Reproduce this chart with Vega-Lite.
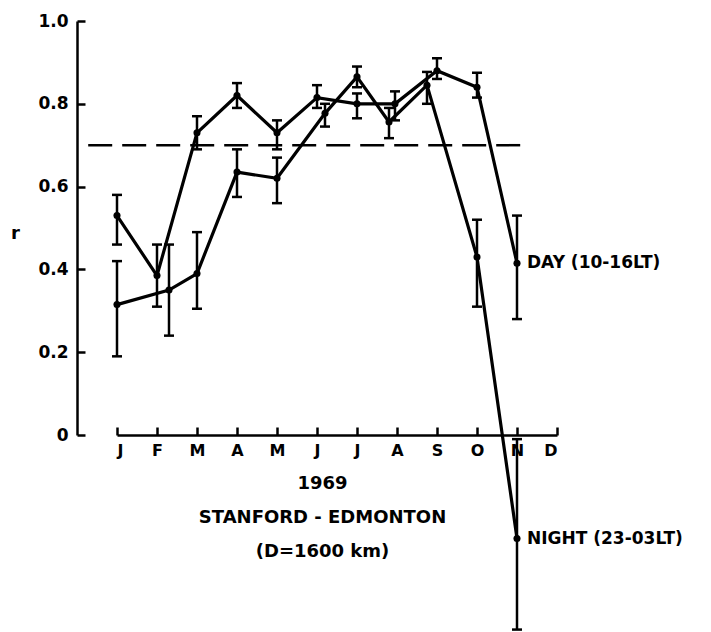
{
  "$schema": "https://vega.github.io/schema/vega-lite/v6.json",
  "width": 440,
  "height": 414,
  "autosize": {"type": "none"},
  "padding": {"left": 117, "top": 21, "right": 154, "bottom": 197},
  "background": "white",
  "config": {
    "view": {"stroke": null},
    "font": "DejaVu Sans",
    "axis": {
      "grid": false,
      "domainColor": "black",
      "domainWidth": 2.5,
      "tickColor": "black",
      "tickWidth": 2.5,
      "labelColor": "black",
      "titleColor": "black",
      "labelFont": "DejaVu Sans",
      "titleFont": "DejaVu Sans",
      "labelFontWeight": "bold",
      "titleFontWeight": "bold"
    }
  },
  "datasets": {
    "pts": [
      {"series": "DAY (10-16LT)", "m": 0, "r": 0.53, "lo": 0.46, "hi": 0.58},
      {"series": "DAY (10-16LT)", "m": 1, "r": 0.385, "lo": 0.31, "hi": 0.46},
      {"series": "DAY (10-16LT)", "m": 2, "r": 0.73, "lo": 0.69, "hi": 0.77},
      {"series": "DAY (10-16LT)", "m": 3, "r": 0.82, "lo": 0.79, "hi": 0.85},
      {"series": "DAY (10-16LT)", "m": 4, "r": 0.73, "lo": 0.69, "hi": 0.76},
      {"series": "DAY (10-16LT)", "m": 5, "r": 0.815, "lo": 0.79, "hi": 0.845},
      {"series": "DAY (10-16LT)", "m": 6, "r": 0.8, "lo": 0.765, "hi": 0.825},
      {"series": "DAY (10-16LT)", "m": 6.95, "r": 0.8, "lo": 0.76, "hi": 0.83},
      {"series": "DAY (10-16LT)", "m": 8, "r": 0.88, "lo": 0.86, "hi": 0.91},
      {"series": "DAY (10-16LT)", "m": 9, "r": 0.84, "lo": 0.815, "hi": 0.875},
      {"series": "DAY (10-16LT)", "m": 10, "r": 0.415, "lo": 0.28, "hi": 0.53},
      {"series": "NIGHT (23-03LT)", "m": 0, "r": 0.315, "lo": 0.19, "hi": 0.42},
      {"series": "NIGHT (23-03LT)", "m": 1.3, "r": 0.35, "lo": 0.24, "hi": 0.46},
      {"series": "NIGHT (23-03LT)", "m": 2, "r": 0.39, "lo": 0.305, "hi": 0.49},
      {"series": "NIGHT (23-03LT)", "m": 3, "r": 0.635, "lo": 0.575, "hi": 0.69},
      {"series": "NIGHT (23-03LT)", "m": 4, "r": 0.62, "lo": 0.56, "hi": 0.67},
      {"series": "NIGHT (23-03LT)", "m": 5.2, "r": 0.777, "lo": 0.745, "hi": 0.8},
      {"series": "NIGHT (23-03LT)", "m": 6, "r": 0.865, "lo": 0.84, "hi": 0.89},
      {"series": "NIGHT (23-03LT)", "m": 6.8, "r": 0.756, "lo": 0.717, "hi": 0.79},
      {"series": "NIGHT (23-03LT)", "m": 7.75, "r": 0.845, "lo": 0.8, "hi": 0.877},
      {"series": "NIGHT (23-03LT)", "m": 9, "r": 0.43, "lo": 0.31, "hi": 0.52},
      {"series": "NIGHT (23-03LT)", "m": 10, "r": -0.25, "lo": -0.47, "hi": -0.01}
    ],
    "ref": [{"m": -0.72, "m2": 10.2, "r": 0.7}]
  },
  "encoding": {
    "x": {
      "field": "m",
      "type": "quantitative",
      "scale": {"domain": [0, 11], "nice": false, "zero": false},
      "axis": {
        "values": [0, 1, 2, 3, 4, 5, 6, 7, 8, 9, 10, 11],
        "labelExpr": "['J','F','M','A','M','J','J','A','S','O','N','D'][datum.value]",
        "tickSize": -8,
        "labelPadding": 15,
        "labelFontSize": 16,
        "title": ["1969", "STANFORD - EDMONTON", "(D=1600 km)"],
        "titleFontSize": 18,
        "titleLineHeight": 34,
        "titleX": 205,
        "titleY": 53,
        "titleAlign": "center",
        "titleBaseline": "alphabetic"
      }
    },
    "y": {
      "field": "r",
      "type": "quantitative",
      "scale": {"domain": [0, 1], "nice": false, "zero": false},
      "axis": {
        "values": [0, 0.2, 0.4, 0.6, 0.8, 1],
        "labelExpr": "datum.value == 0 ? '0' : format(datum.value, '.1f')",
        "offset": 40,
        "tickSize": -8,
        "labelPadding": 17,
        "labelFontSize": 17,
        "title": "r",
        "titleAngle": 0,
        "titleX": -62,
        "titleY": 212,
        "titleAlign": "center",
        "titleBaseline": "middle",
        "titleFontSize": 18
      }
    }
  },
  "layer": [
    {
      "data": {"name": "ref"},
      "mark": {"type": "rule", "strokeDash": [24, 10], "strokeWidth": 2.5, "color": "black"},
      "encoding": {"x2": {"field": "m2"}}
    },
    {
      "data": {"name": "pts"},
      "mark": {"type": "line", "strokeWidth": 3.2, "color": "black"},
      "encoding": {"detail": {"field": "series"}}
    },
    {
      "data": {"name": "pts"},
      "mark": {"type": "rule", "strokeWidth": 2.5, "color": "black"},
      "encoding": {"y": {"field": "lo", "type": "quantitative"}, "y2": {"field": "hi"}}
    },
    {
      "data": {"name": "pts"},
      "mark": {"type": "tick", "orient": "horizontal", "size": 10, "thickness": 2.5, "color": "black", "opacity": 1},
      "encoding": {"y": {"field": "lo", "type": "quantitative"}}
    },
    {
      "data": {"name": "pts"},
      "mark": {"type": "tick", "orient": "horizontal", "size": 10, "thickness": 2.5, "color": "black", "opacity": 1},
      "encoding": {"y": {"field": "hi", "type": "quantitative"}}
    },
    {
      "data": {"name": "pts"},
      "mark": {"type": "point", "filled": true, "size": 50, "color": "black", "opacity": 1},
      "encoding": {}
    },
    {
      "data": {"name": "pts"},
      "transform": [{"filter": "datum.m == 10"}],
      "mark": {"type": "text", "align": "left", "baseline": "middle", "dx": 10, "fontSize": 17, "fontWeight": "bold", "font": "DejaVu Sans", "color": "black"},
      "encoding": {"text": {"field": "series"}}
    }
  ]
}
